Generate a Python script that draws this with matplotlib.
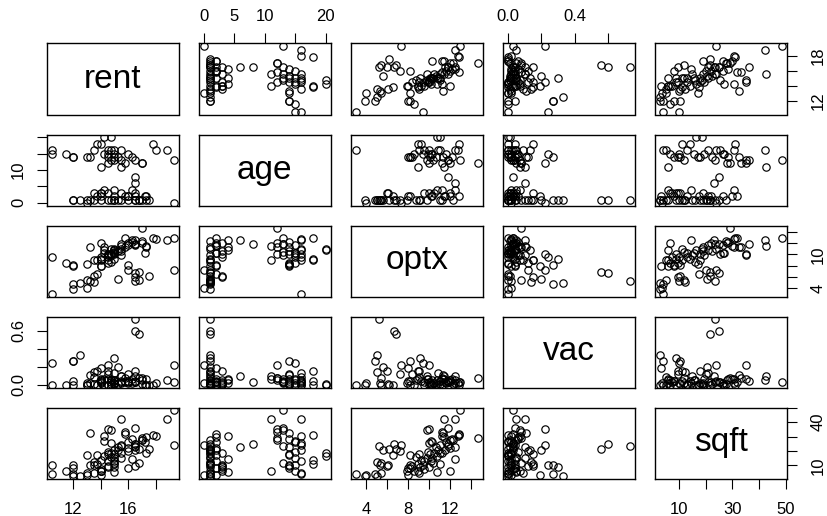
import numpy as np
import matplotlib
matplotlib.use("Agg")
import matplotlib.pyplot as plt

plt.rcParams['font.family'] = ['Liberation Sans', 'DejaVu Sans']

# commercial property data
rent = [13.50, 15.00, 14.00, 16.50, 17.50, 16.50, 16.00, 17.22, 17.25, 17.25,
        19.25, 16.50, 16.75, 12.00, 12.50, 12.00, 13.00, 13.25, 13.50, 14.00,
        14.00, 14.50, 14.50, 15.00, 15.00, 15.50, 15.50, 16.00, 16.00, 14.75,
        16.25, 17.00, 13.75, 15.25, 16.50, 16.75, 14.25, 15.75, 13.00, 14.00,
        15.00,
        12.00, 10.50, 14.00, 10.50, 16.50, 17.00, 16.50, 16.50, 19.25, 18.75,
        18.00, 17.75, 17.00, 15.50, 14.50, 14.75, 13.25, 12.00, 13.00, 11.50,
        15.00, 15.00, 14.75, 15.25, 14.50, 15.50, 14.50, 15.00, 14.00, 13.75,
        14.25, 14.75, 16.00, 15.00, 16.25, 14.50, 15.75, 14.25, 15.50, 13.50]
age = [1, 4, 2, 1, 1, 2, 2, 2, 2, 1,
       0, 1, 1, 1, 1, 1, 1, 1, 3, 1,
       3, 3, 1, 2, 1, 3, 1, 2, 1, 1,
       4, 1, 2, 1, 3, 1, 4, 2, 0, 3,
       1,
       14, 16, 11, 15, 8, 12, 13, 6, 13, 16,
       16, 18, 12, 11, 12, 13, 14, 14, 14, 15,
       14, 15, 16, 14, 15, 16, 16, 13, 18, 18,
       20, 20, 15, 16, 14, 14, 12, 15, 13, 16]
optx = [5.02, 10.70, 8.00, 6.62, 6.20, 11.55, 8.12, 10.25, 11.40, 11.20,
        7.30, 5.20, 6.80, 3.90, 5.00, 4.80, 5.40, 5.30, 6.10, 7.90,
        9.50, 10.00, 9.00, 10.20, 11.00, 10.50, 9.80, 12.00, 7.20, 8.70,
        12.50, 12.30, 6.50, 5.60, 6.00, 5.40, 11.20, 12.80, 4.00, 12.00,
        9.10,
        8.19, 3.00, 8.97, 9.45, 11.78, 14.62, 11.81, 12.50, 12.90, 12.50,
        12.70, 12.80, 12.00, 11.40, 10.00, 9.80, 11.30, 8.00, 8.20, 8.50,
        10.10, 10.30, 10.00, 10.60, 9.90, 11.00, 9.50, 10.40, 9.20, 8.90,
        10.70, 11.00, 11.60, 10.80, 12.20, 8.40, 11.20, 10.20, 11.80, 9.00]
vac = [0.14, 0.05, 0.19, 0.60, 0.00, 0.03, 0.04, 0.00, 0.06, 0.00,
       0.22, 0.73, 0.56, 0.00, 0.33, 0.27, 0.00, 0.02, 0.01, 0.02,
       0.03, 0.00, 0.15, 0.01, 0.04, 0.02, 0.10, 0.03, 0.12, 0.05,
       0.02, 0.01, 0.00, 0.20, 0.15, 0.08, 0.07, 0.03, 0.02, 0.05,
       0.30,
       0.27, 0.00, 0.07, 0.24, 0.03, 0.08, 0.04, 0.10, 0.03, 0.05,
       0.02, 0.00, 0.05, 0.10, 0.22, 0.07, 0.11, 0.04, 0.00, 0.00,
       0.02, 0.05, 0.03, 0.01, 0.06, 0.04, 0.00, 0.02, 0.04, 0.15,
       0.00, 0.01, 0.02, 0.13, 0.06, 0.12, 0.08, 0.00, 0.03, 0.09]
sqft = [12.3, 5.7, 3.1, 24.8, 21.5, 20.8, 8.2, 26.6, 29.9, 18.9,
        24.0, 23.5, 21.4, 3.0, 2.8, 4.0, 5.0, 10.0, 10.5, 6.0,
        7.5, 9.0, 17.7, 13.0, 11.0, 19.0, 15.0, 22.0, 20.2, 16.0,
        14.5, 27.5, 17.5, 20.5, 9.5, 12.0, 30.5, 31.5, 3.5, 6.5,
        8.8,
        10.4, 4.0, 6.0, 10.1, 25.1, 29.1, 36.0, 23.0, 48.4, 42.0,
        30.5, 31.0, 28.0, 42.5, 35.0, 34.9, 32.3, 8.0, 17.0, 6.5,
        18.0, 15.5, 25.5, 22.5, 19.5, 24.0, 13.0, 12.0, 14.0, 11.0,
        16.5, 18.5, 26.5, 21.0, 28.5, 9.5, 33.0, 27.0, 23.5, 5.0]

names = ["rent", "age", "optx", "vac", "sqft"]
data = [rent, age, optx, vac, sqft]

# tick positions and the labels R kept after dropping overlaps
ticks = {
    "rent": ([12, 14, 16, 18], {"x": ["12", "", "16", ""], "y": ["12", "", "", "18"]}),
    "age": ([0, 5, 10, 15, 20], {"x": ["0", "5", "10", "", "20"], "y": ["0", "", "10", "", ""]}),
    "optx": ([4, 6, 8, 10, 12, 14], {"x": ["4", "", "8", "", "12", ""], "y": ["4", "", "", "10", "", ""]}),
    "vac": ([0.0, 0.2, 0.4, 0.6], {"x": ["0.0", "", "0.4", ""], "y": ["0.0", "", "", "0.6"]}),
    "sqft": ([10, 20, 30, 40, 50], {"x": ["10", "", "30", "", "50"], "y": ["10", "", "", "40", ""]}),
}

W, H = 827, 516
fig = plt.figure(figsize=(W / 100, H / 100), dpi=100)

n = len(names)
x0, step_x, pw = 47, 152, 131.5
y0, step_y, ph = 43.5, 91, 71


def lims(v):
    v = np.asarray(v, dtype=float)
    r = v.max() - v.min()
    return v.min() - 0.04 * r, v.max() + 0.04 * r


for i in range(n):
    for j in range(n):
        left = (x0 + j * step_x) / W
        bottom = 1 - (y0 + i * step_y + ph) / H
        ax = fig.add_axes([left, bottom, pw / W, ph / H])
        for s in ax.spines.values():
            s.set_linewidth(1.0)
        ax.set_xticks([])
        ax.set_yticks([])
        if i == j:
            ax.text(0.5, 0.5, names[i], transform=ax.transAxes, ha="center",
                    va="center", fontsize=24)
        else:
            ax.plot(data[j], data[i], "o", mfc="none", mec="black", ms=5.3, mew=0.85)

        tick_kw = dict(direction="out", length=7.2, width=0.8, labelsize=12)
        if i == 0 and j % 2 == 1:
            tv, tl = ticks[names[j]]
            ax.set_xticks(tv)
            ax.set_xticklabels(tl["x"])
            ax.tick_params(axis="x", top=True, bottom=False, labeltop=True,
                           labelbottom=False, pad=7, **tick_kw)
        if i == n - 1 and j % 2 == 0:
            tv, tl = ticks[names[j]]
            ax.set_xticks(tv)
            ax.set_xticklabels(tl["x"])
            ax.tick_params(axis="x", pad=10, **tick_kw)
        if j == 0 and i % 2 == 1:
            tv, tl = ticks[names[i]]
            ax.set_yticks(tv)
            ax.set_yticklabels(tl["y"], rotation=90, va="center")
            ax.tick_params(axis="y", pad=8, **tick_kw)
        if j == n - 1 and i % 2 == 0:
            tv, tl = ticks[names[i]]
            ax.set_yticks(tv)
            ax.set_yticklabels(tl["y"], rotation=90, va="center")
            ax.tick_params(axis="y", left=False, right=True, labelleft=False,
                           labelright=True, pad=10, **tick_kw)
        ax.set_xlim(lims(data[j]))
        ax.set_ylim(lims(data[i]))

fig.savefig("out.png", dpi=100)
